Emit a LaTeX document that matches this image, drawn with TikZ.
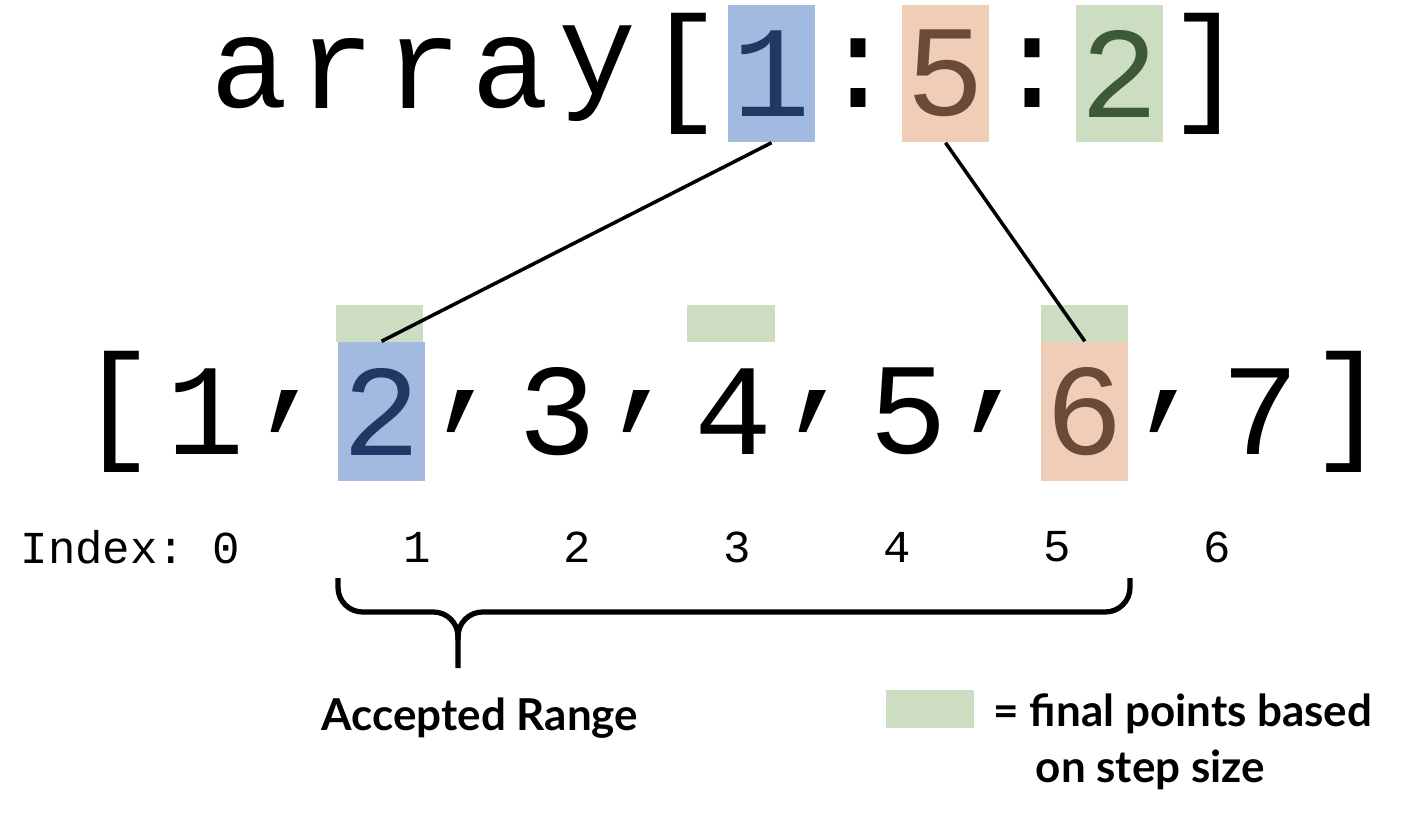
\documentclass[tikz,border=0pt]{standalone}
\usepackage{fontspec}
\setmonofont{Liberation Mono}
\setsansfont{Lato}
\definecolor{startblue}{HTML}{A2B9E0}
\definecolor{startink}{HTML}{1F3864}
\definecolor{stoporange}{HTML}{EFCDB6}
\definecolor{stopink}{HTML}{6B4A3A}
\definecolor{stepgreen}{HTML}{CCDDC1}
\definecolor{stepink}{HTML}{3E5A35}
\begin{document}
\begin{tikzpicture}[x=0.01cm,y=-0.01cm,
    big char/.style = {inner sep=0pt, minimum width=0.87cm, font=\ttfamily\fontsize{37}{37}\selectfont},
    top char/.style = {big char, minimum height=1.37cm},
    row char/.style = {big char, minimum height=1.39cm},
    index/.style = {font=\ttfamily\fontsize{13}{13}\selectfont, inner sep=0pt},
    label text/.style = {font=\sffamily\bfseries\fontsize{12.5}{16}\selectfont},
    mark bar/.style = {fill=stepgreen, inner sep=0pt, minimum width=0.87cm, minimum height=0.37cm}]
  \useasboundingbox (0,0) rectangle (1428,819);

  % top expression
  \foreach \c [count=\i] in {a,r,r,a,y,[,1,:,5,:,2,]}
    \node[top char] (t\i) at (206+87*\i-43.5,73.5) {\c};
  \node[top char, fill=startblue, text=startink] at (t7) {1};
  \node[top char, fill=stoporange, text=stopink] at (t9) {5};
  \node[top char, fill=stepgreen, text=stepink] at (t11) {2};

  % the list
  \foreach \c [count=\i] in {[,1,{,},2,{,},3,{,},4,{,},5,{,},6,{,},7,]}
    \node[row char] (b\i) at (74+87.9*\i-44,411.5) {\c};
  \node[row char, fill=startblue, text=startink] at (b4) {2};
  \node[row char, fill=stoporange, text=stopink] at (b12) {6};

  % step marks
  \node[mark bar] (m1) at (379.5,323.5) {};
  \node[mark bar] (m2) at (731,323.5) {};
  \node[mark bar] (m3) at (1084.5,323.5) {};

  \draw[line width=1pt] (t7.south) -- (b4.north);
  \draw[line width=1pt] (t9.south) -- (b12.north);

  % indices
  \node[index, anchor=west] (ix) at (20,547) {Index: 0};
  \foreach \n [count=\i] in {1,...,6}
    \node[index] (i\n) at (257+160*\i,547) {\n};

  % brace
  \coordinate (bl) at (338,578);
  \coordinate (br) at (1130,578);
  \coordinate (tip) at (458,668);
  \draw[line width=1.5pt, rounded corners=7pt] (bl) -- (338,612) -- (458,612) -- (tip);
  \draw[line width=1.5pt, rounded corners=7pt] (458,640) -- (458,612) -- (1130,612) -- (br);
  \node[label text] (range) at (480,718) {Accepted Range};

  % legend
  \node[mark bar, minimum height=0.38cm] (key) at (930,709) {};
  \node[label text, anchor=north west, align=left, inner sep=0pt]
    (keytext) at (993,693) {= final points based\\\hspace*{0.42cm}on step size};
\end{tikzpicture}
\end{document}
